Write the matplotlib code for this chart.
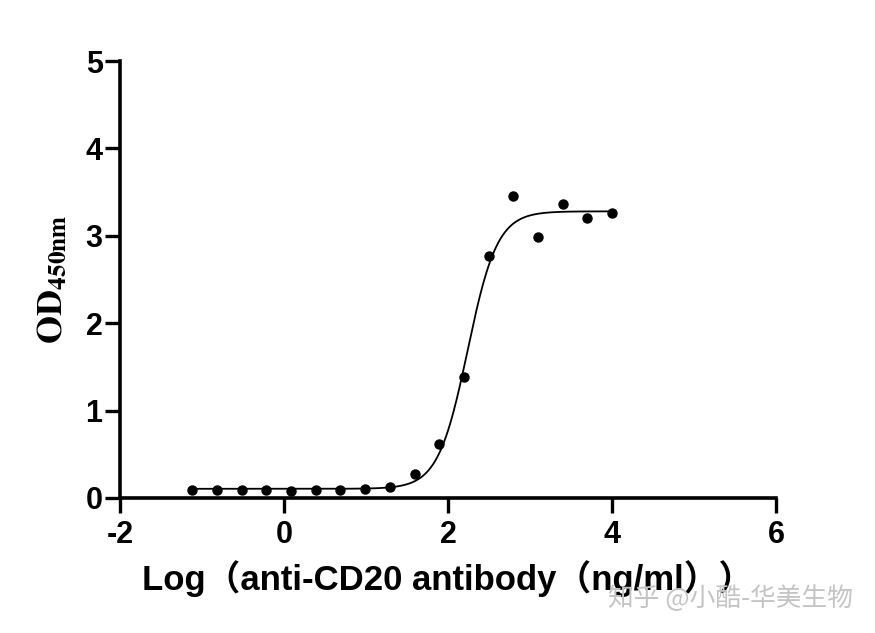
import numpy as np
import matplotlib
matplotlib.use('Agg')
import matplotlib.pyplot as plt

# log10 concentration (ng/ml) and OD450 readings
log_conc = [-1.117, -0.816, -0.515, -0.214, 0.087, 0.388, 0.689, 0.990, 1.291,
            1.592, 1.893, 2.194, 2.495, 2.796, 3.097, 3.398, 3.699, 4.000]
od450 = [0.09, 0.09, 0.09, 0.09, 0.08, 0.09, 0.09, 0.10, 0.12,
         0.27, 0.62, 1.38, 2.77, 3.45, 2.99, 3.36, 3.20, 3.26]

# 4PL fit parameters
bottom = 0.105
top = 3.28
log_ec50 = 2.24
hill = 2.4

x_ticks = [-2, 0, 2, 4, 6]
y_ticks = [0, 1, 2, 3, 4, 5]

plt.rcParams['mathtext.fontset'] = 'stix'
plt.rcParams['axes.unicode_minus'] = False

fig = plt.figure(figsize=(8.75, 6.33), dpi=100)
ax = fig.add_axes([0.1371, 0.2133, 0.7498, 0.6903])

xs = np.linspace(min(log_conc), max(log_conc), 400)
curve = bottom + (top - bottom) / (1 + 10 ** ((log_ec50 - xs) * hill))
ax.plot(xs, curve, color='black', lw=1.3)
ax.plot(log_conc, od450, 'o', color='black', ms=6.5)

ax.set_xlim(-2, 6)
ax.set_ylim(0, 5)
ax.set_xticks(x_ticks)
ax.set_yticks(y_ticks)

for s in ['top', 'right']:
    ax.spines[s].set_visible(False)
for s in ['left', 'bottom']:
    ax.spines[s].set_linewidth(2.6)
ax.tick_params(width=2.4, length=10.5, direction='out')
ax.tick_params(axis='y', pad=2)
ax.tick_params(axis='x', pad=5)
for lab in ax.get_xticklabels() + ax.get_yticklabels():
    lab.set_fontfamily('Liberation Sans')
    lab.set_fontweight('bold')
    lab.set_fontsize(22)

ax.set_xlabel('Log（anti-CD20 antibody（ng/ml））',
              family=['Liberation Sans', 'Noto Sans CJK SC'],
              fontweight='bold', fontsize=25, labelpad=8)
ax.set_ylabel(r'$\mathbf{OD}_{\mathbf{450nm}}$', fontsize=26, labelpad=12)

fig.text(0.695, 0.055, '知乎 @小酷-华美生物', family=['Noto Sans CJK SC'],
         fontsize=18.5, color='#c4c4c4', va='center')

fig.savefig('out.png', dpi=100)
